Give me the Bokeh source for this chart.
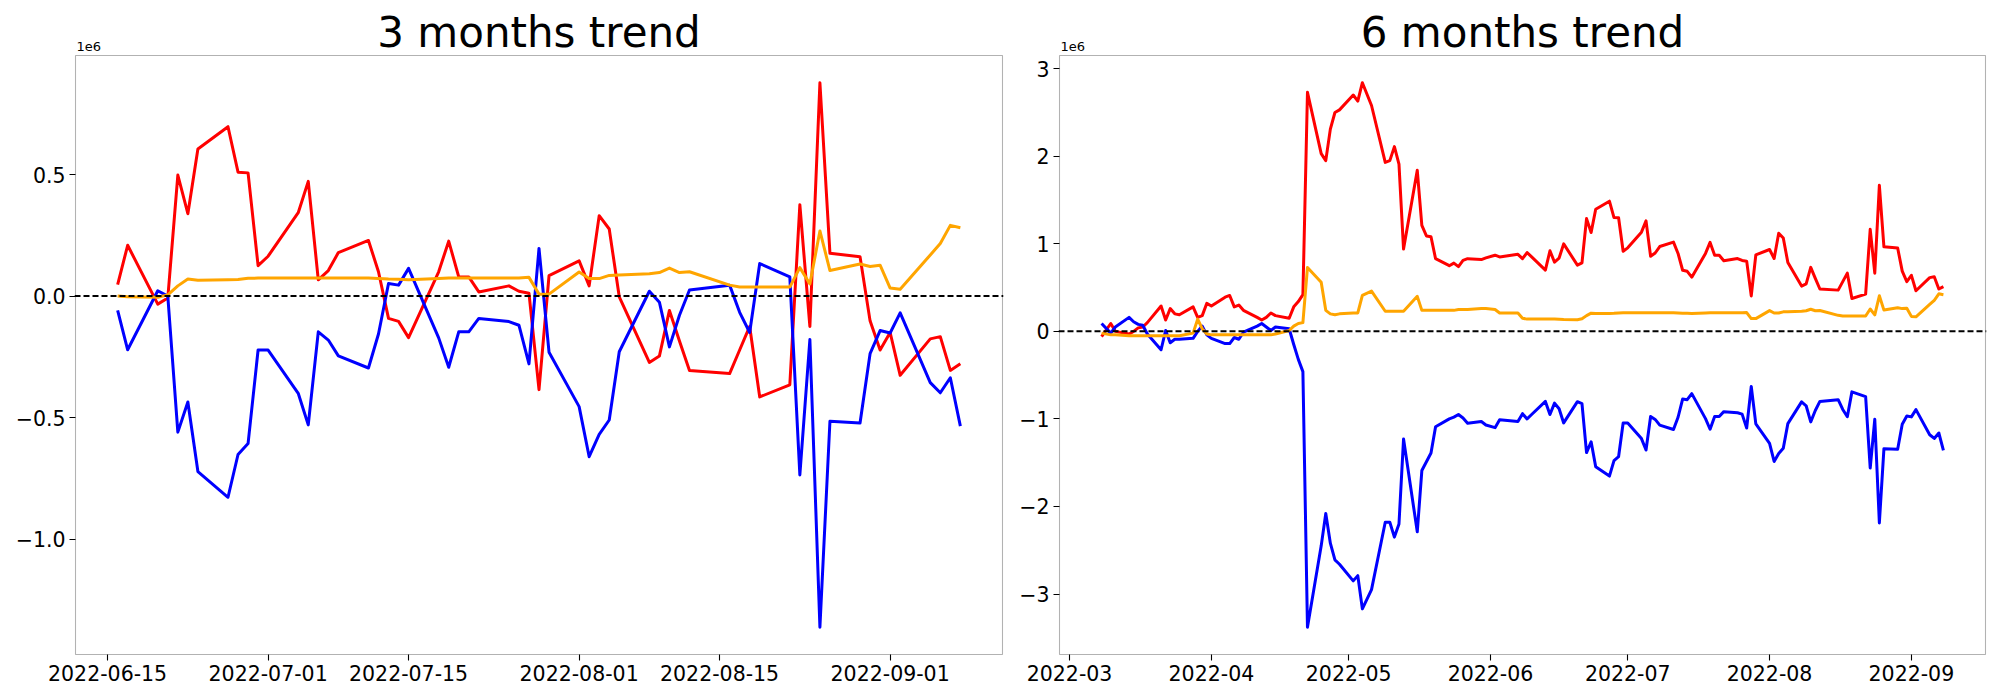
import pandas as pd
from bokeh.plotting import figure
from bokeh.models import (ColumnDataSource, Range1d, FixedTicker, CustomJSTickFormatter,
                          Span, Label, BoxAnnotation)
from bokeh.layouts import row
from bokeh.embed import file_html
from bokeh.resources import INLINE

# ---------------- data ----------------
TITLES = ["3 months trend", "6 months trend"]
START_6M = "2022-03-08"
START_3M = "2022-06-16"
END = "2022-09-08"
KR_HOLIDAYS = ["2022-03-09", "2022-05-05", "2022-06-01", "2022-06-06", "2022-08-15"]

TICKS_3M = ["2022-06-15", "2022-07-01", "2022-07-15", "2022-08-01", "2022-08-15", "2022-09-01"]
TICKS_6M = ["2022-03-01", "2022-04-01", "2022-05-01", "2022-06-01", "2022-07-01", "2022-08-01", "2022-09-01"]
YTICKS_3M = [-1.0e6, -0.5e6, 0.0, 0.5e6]
YTICKS_6M = [-3e6, -2e6, -1e6, 0.0, 1e6, 2e6, 3e6]

# 3 months (values in millions)
red_3m = [0.047, 0.209, -0.033, -0.008, 0.498, 0.339, 0.605, 0.697, 0.510, 0.507,
          0.125, 0.164, 0.343, 0.472, 0.067, 0.105, 0.179, 0.229, 0.100, -0.092,
          -0.104, -0.171, 0.100, 0.226, 0.079, 0.079, 0.017, 0.042, 0.020, 0.012,
          -0.385, 0.084, 0.145, 0.042, 0.331, 0.276, -0.003, -0.273, -0.247, -0.059,
          -0.185, -0.306, -0.319, -0.222, -0.125, -0.415, -0.365, 0.376, -0.125, 0.878,
          0.176, 0.162, -0.102, -0.222, -0.150, -0.326, -0.176, -0.167, -0.306, -0.279]
blue_3m = [-0.059, -0.221, 0.022, 0.000, -0.560, -0.436, -0.722, -0.828, -0.652, -0.607,
           -0.222, -0.222, -0.400, -0.530, -0.147, -0.181, -0.246, -0.296, -0.156, 0.052,
           0.045, 0.114, -0.172, -0.293, -0.147, -0.147, -0.092, -0.105, -0.120, -0.279,
           0.196, -0.231, -0.455, -0.661, -0.569, -0.510, -0.229, 0.020, -0.025, -0.209,
           -0.079, 0.025, 0.045, -0.067, -0.150, 0.134, 0.079, -0.736, -0.179, -1.363,
           -0.515, -0.522, -0.237, -0.142, -0.152, -0.069, -0.356, -0.398, -0.336, -0.535]
orange_3m = [0.000, -0.003, -0.005, 0.005, 0.042, 0.070, 0.065, 0.067, 0.068, 0.073,
             0.074, 0.074, 0.074, 0.074, 0.074, 0.074, 0.074, 0.074, 0.072, 0.070,
             0.069, 0.067, 0.072, 0.074, 0.074, 0.074, 0.074, 0.074, 0.074, 0.077,
             0.008, 0.008, 0.099, 0.072, 0.072, 0.085, 0.087, 0.092, 0.097, 0.115,
             0.097, 0.100, 0.045, 0.037, 0.037, 0.037, 0.037, 0.117, 0.050, 0.268,
             0.105, 0.132, 0.122, 0.127, 0.033, 0.028, 0.169, 0.216, 0.291, 0.281]

# 6 months (values in millions)
red_6m = [-0.06, 0.09, 0.00, -0.03, 0.00, 0.04, 0.05, 0.10, 0.29, 0.13,
          0.26, 0.20, 0.19, 0.28, 0.16, 0.18, 0.32, 0.29, 0.39, 0.41,
          0.28, 0.30, 0.24, 0.16, 0.13, 0.16, 0.21, 0.18, 0.15, 0.28,
          0.34, 0.42, 2.73, 2.03, 1.95, 2.31, 2.50, 2.53, 2.70, 2.63,
          2.84, 2.58, 1.93, 1.95, 2.11, 1.91, 0.94, 1.84, 1.21, 1.09,
          1.08, 0.83, 0.75, 0.78, 0.74, 0.81, 0.83, 0.82, 0.84, 0.87,
          0.85, 0.88, 0.83, 0.90, 0.85, 0.70, 0.92, 0.79,
          0.837, 0.999, 0.757, 0.782, 1.288, 1.129, 1.395, 1.487, 1.300, 1.297,
          0.915, 0.954, 1.133, 1.262, 0.857, 0.895, 0.969, 1.019, 0.890, 0.698,
          0.686, 0.619, 0.890, 1.016, 0.869, 0.869, 0.807, 0.832, 0.810, 0.802,
          0.405, 0.874, 0.935, 0.832, 1.121, 1.066, 0.787, 0.517, 0.543, 0.731,
          0.605, 0.484, 0.471, 0.568, 0.665, 0.375, 0.425, 1.166, 0.665, 1.668,
          0.966, 0.952, 0.688, 0.568, 0.640, 0.464, 0.614, 0.623, 0.484, 0.511]
blue_6m = [0.09, -0.02, 0.05, 0.16, 0.11, 0.08, 0.07, -0.03, -0.21, 0.01,
           -0.13, -0.09, -0.09, -0.08, 0.00, 0.06, -0.04, -0.08, -0.14, -0.14,
           -0.07, -0.09, -0.01, 0.06, 0.09, 0.05, 0.01, 0.05, 0.03, -0.15,
           -0.32, -0.46, -3.38, -2.45, -2.08, -2.42, -2.61, -2.66, -2.85, -2.79,
           -3.17, -2.95, -2.18, -2.18, -2.35, -2.20, -1.23, -2.29, -1.59, -1.49,
           -1.39, -1.09, -1.00, -0.98, -0.95, -0.99, -1.05, -1.03, -1.07, -1.10,
           -1.01, -1.03, -0.94, -1.00, -0.95, -0.80, -0.95, -0.82,
           -0.884, -1.046, -0.803, -0.825, -1.385, -1.261, -1.547, -1.653, -1.477, -1.432,
           -1.047, -1.047, -1.225, -1.355, -0.972, -1.006, -1.071, -1.121, -0.981, -0.773,
           -0.780, -0.711, -0.997, -1.118, -0.972, -0.972, -0.917, -0.930, -0.945, -1.104,
           -0.629, -1.056, -1.280, -1.486, -1.394, -1.335, -1.054, -0.805, -0.850, -1.034,
           -0.904, -0.800, -0.780, -0.892, -0.975, -0.691, -0.746, -1.561, -1.004, -2.188,
           -1.340, -1.347, -1.062, -0.967, -0.977, -0.894, -1.181, -1.223, -1.161, -1.360]
orange_6m = [-0.02, -0.04, -0.04, -0.05, -0.05, -0.05, -0.05, -0.05, -0.05, -0.05,
             -0.05, -0.05, -0.05, -0.02, 0.14, 0.03, -0.03, -0.04, -0.04, -0.04,
             -0.04, -0.04, -0.04, -0.04, -0.04, -0.04, -0.04, -0.03, 0.01, 0.06,
             0.09, 0.10, 0.73, 0.56, 0.24, 0.20, 0.19, 0.20, 0.21, 0.21,
             0.41, 0.46, 0.23, 0.23, 0.23, 0.23, 0.23, 0.40, 0.24, 0.24,
             0.24, 0.24, 0.24, 0.24, 0.25, 0.25, 0.25, 0.26, 0.26, 0.25,
             0.21, 0.21, 0.15, 0.14, 0.14, 0.14, 0.14, 0.14,
             0.138, 0.135, 0.133, 0.143, 0.180, 0.208, 0.203, 0.205, 0.206, 0.211,
             0.212, 0.212, 0.212, 0.212, 0.212, 0.212, 0.212, 0.212, 0.210, 0.208,
             0.207, 0.205, 0.210, 0.212, 0.212, 0.212, 0.212, 0.212, 0.212, 0.215,
             0.146, 0.146, 0.237, 0.210, 0.210, 0.223, 0.225, 0.230, 0.235, 0.253,
             0.235, 0.238, 0.183, 0.175, 0.175, 0.175, 0.175, 0.255, 0.188, 0.406,
             0.243, 0.270, 0.260, 0.265, 0.171, 0.166, 0.307, 0.354, 0.429, 0.419]

SERIES_COLORS = ["red", "blue", "orange"]


def trading_days(start, end):
    hol = set(pd.to_datetime(KR_HOLIDAYS))
    return [d for d in pd.bdate_range(start, end) if d not in hol]


dates_6m = trading_days(START_6M, END)
dates_3m = trading_days(START_3M, END)
assert len(dates_3m) == len(red_3m) == len(blue_3m) == len(orange_3m)
assert len(dates_6m) == len(red_6m) == len(blue_6m) == len(orange_6m)

FONT = "DejaVu Sans"
FIG_H = 692
BOX_TOP_PAD = 55     # px of frame kept above the axes box (title zone)
BOX_H = 599          # px height of the axes box


def ms(d):
    return pd.Timestamp(d).value / 1e6


def make_panel(title, dates, series, xticks, yticks, date_len, ydec,
               width, border_left, border_right):
    xs = [ms(d) for d in dates]
    x0, x1 = min(xs), max(xs)
    xpad = 0.05 * (x1 - x0)
    xa, xb = x0 - xpad, x1 + xpad
    allv = [v * 1e6 for s in series for v in s]
    y0, y1 = min(allv), max(allv)
    ypad = 0.05 * (y1 - y0)
    ya, yb = y0 - ypad, y1 + ypad

    frame_w = width - border_left - border_right
    box_w = frame_w - 2
    sx = (xb - xa) / box_w
    sy = (yb - ya) / BOX_H

    p = figure(width=width, height=FIG_H, output_backend="svg", toolbar_location=None,
               x_range=Range1d(xa - sx, xb + sx),
               y_range=Range1d(ya - sy, yb + BOX_TOP_PAD * sy),
               min_border_left=border_left, min_border_right=border_right,
               min_border_top=0, min_border_bottom=FIG_H - BOX_TOP_PAD - BOX_H - 1,
               title=None)
    p.background_fill_color = "white"
    p.border_fill_color = "white"
    p.outline_line_color = None
    p.xgrid.visible = False
    p.ygrid.visible = False

    for vals, col in zip(series, SERIES_COLORS):
        src = ColumnDataSource(dict(x=dates, y=[v * 1e6 for v in vals]))
        p.line("x", "y", source=src, line_color=col, line_width=3, line_join="round")

    p.add_layout(Span(location=0, dimension="width", line_color="black",
                      line_width=2, line_dash="6 3"))
    p.add_layout(BoxAnnotation(left=xa, right=xb, bottom=ya, top=yb,
                               fill_color=None, fill_alpha=0,
                               line_color="black", line_width=1.1))

    p.xaxis.ticker = FixedTicker(ticks=[ms(t) for t in xticks])
    p.xaxis.formatter = CustomJSTickFormatter(
        code="return new Date(tick).toISOString().slice(0, %d);" % date_len)
    p.yaxis.ticker = FixedTicker(ticks=yticks)
    p.yaxis.formatter = CustomJSTickFormatter(code="""
        let v = tick / 1e6;
        if (Math.abs(v) < 1e-9) v = 0;
        return v.toFixed(%d).replace('-', '\\u2212');""" % ydec)
    for ax in (p.xaxis[0], p.yaxis[0]):
        ax.axis_line_color = None
        ax.major_tick_line_color = "black"
        ax.major_tick_line_width = 1.1
        ax.major_tick_out = 5
        ax.major_tick_in = 1
        ax.minor_tick_line_color = None
        ax.major_label_text_font = FONT
        ax.major_label_text_font_size = "20.5px"
        ax.major_label_text_color = "black"
        ax.major_label_standoff = 4

    p.add_layout(Label(x=(xa + xb) / 2, y=yb, x_units="data", y_units="data", text=title,
                       text_font=FONT, text_font_size="42px", text_color="black",
                       text_align="center", text_baseline="alphabetic", y_offset=23))
    p.add_layout(Label(x=xa, y=yb, x_units="data", y_units="data", text="1e6",
                       text_font=FONT, text_font_size="13px", text_color="black",
                       text_align="left", text_baseline="alphabetic", y_offset=9, x_offset=1))
    return p


p1 = make_panel(TITLES[0], dates_3m, [red_3m, blue_3m, orange_3m], TICKS_3M, YTICKS_3M,
                10, 1, 1010, 74, 7)
p2 = make_panel(TITLES[1], dates_6m, [red_6m, blue_6m, orange_6m], TICKS_6M, YTICKS_6M,
                7, 0, 982, 48, 6)

layout = row(p1, p2)
open("out.html", "w").write(file_html(layout, INLINE))
